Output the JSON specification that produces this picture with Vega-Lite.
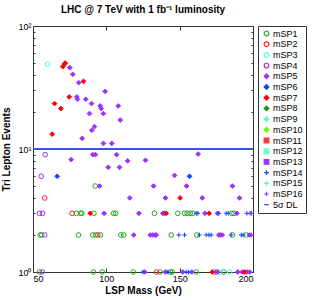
{
  "$schema": "https://vega.github.io/schema/vega-lite/v6.json",
  "autosize": {"type": "none"},
  "width": 220,
  "height": 246,
  "padding": {"left": 33, "top": 26, "right": 60, "bottom": 28},
  "config": {
    "font": "Liberation Sans",
    "view": {"stroke": "#333", "strokeWidth": 1},
    "axis": {"domain": false, "grid": false, "tickColor": "#333", "labelColor": "#000", "labelFontSize": 9, "titleFontSize": 10, "titleFontWeight": "bold", "titleColor": "#000"},
    "legend": {"orient": "none", "legendX": 225, "legendY": 0, "strokeColor": "#333", "fillColor": "white", "padding": 3, "labelFontSize": 9, "labelColor": "#000", "clipHeight": 9, "rowPadding": 0.7, "labelOffset": 2, "symbolOffset": 1, "symbolStrokeWidth": 1.2, "labelLimit": 0}
  },
  "title": {"text": "LHC @ 7 TeV with 1 fb⁻¹ luminosity", "fontSize": 10, "fontWeight": "bold", "anchor": "middle", "offset": 7, "color": "#000"},
  "data": {"values": [
    {"s":"mSP1","m":92.4,"n":5},{"s":"mSP1","m":79.5,"n":3},{"s":"mSP1","m":82.5,"n":3},{"s":"mSP1","m":83.3,"n":3},{"s":"mSP1","m":91.5,"n":3},{"s":"mSP1","m":104.9,"n":3},{"s":"mSP1","m":106.4,"n":3},{"s":"mSP1","m":132.8,"n":3},{"s":"mSP1","m":148.7,"n":3},{"s":"mSP1","m":153.3,"n":3},{"s":"mSP1","m":155.1,"n":3},{"s":"mSP1","m":157.2,"n":3},{"s":"mSP1","m":159,"n":3},{"s":"mSP1","m":185.5,"n":3},{"s":"mSP1","m":187,"n":3},
    {"s":"mSP1","m":54.9,"n":2},{"s":"mSP1","m":56,"n":2},{"s":"mSP1","m":81,"n":2},{"s":"mSP1","m":90.8,"n":2},{"s":"mSP1","m":92.6,"n":2},{"s":"mSP1","m":96,"n":2},{"s":"mSP1","m":109.9,"n":2},{"s":"mSP1","m":111.9,"n":2},{"s":"mSP1","m":144.2,"n":2},{"s":"mSP1","m":161.7,"n":2},{"s":"mSP1","m":186,"n":2},{"s":"mSP1","m":195.4,"n":2},
    {"s":"mSP1","m":54.4,"n":1},{"s":"mSP1","m":91.2,"n":1},{"s":"mSP1","m":97.2,"n":1},{"s":"mSP1","m":118.3,"n":1},{"s":"mSP1","m":136.7,"n":1},{"s":"mSP1","m":143.7,"n":1},{"s":"mSP1","m":144.9,"n":1},{"s":"mSP1","m":161.3,"n":1},{"s":"mSP1","m":173.8,"n":1},{"s":"mSP1","m":180,"n":1},
    {"s":"mSP2","m":58,"n":4},{"s":"mSP2","m":76.7,"n":3},{"s":"mSP2","m":94.2,"n":2},{"s":"mSP2","m":134.2,"n":1},
    {"s":"mSP3","m":60,"n":49},{"s":"mSP3","m":177.4,"n":1},{"s":"mSP3","m":184.1,"n":1},
    {"s":"mSP4","m":58.3,"n":9},{"s":"mSP4","m":55.6,"n":6},{"s":"mSP4","m":54.4,"n":3},{"s":"mSP4","m":56.5,"n":3},{"s":"mSP4","m":58,"n":2},{"s":"mSP4","m":56.3,"n":1},
    {"s":"mSP5","m":75.1,"n":45.8},{"s":"mSP5","m":77.1,"n":40.5},{"s":"mSP5","m":81.2,"n":34.6},{"s":"mSP5","m":99.2,"n":29.4},{"s":"mSP5","m":79.9,"n":26.5},{"s":"mSP5","m":80.3,"n":25.4},{"s":"mSP5","m":86,"n":25.4},{"s":"mSP5","m":89.9,"n":23.4},{"s":"mSP5","m":95.8,"n":22.4},{"s":"mSP5","m":96.5,"n":21.3},{"s":"mSP5","m":88.5,"n":19.4},{"s":"mSP5","m":98,"n":19.4},{"s":"mSP5","m":108.1,"n":22.4},{"s":"mSP5","m":109.5,"n":17.2},{"s":"mSP5","m":91.9,"n":15.2},{"s":"mSP5","m":90.1,"n":14.2},{"s":"mSP5","m":83.5,"n":12.2},{"s":"mSP5","m":98,"n":11.1},{"s":"mSP5","m":103.7,"n":11.1},{"s":"mSP5","m":76,"n":8.2},{"s":"mSP5","m":90.8,"n":9},{"s":"mSP5","m":92.6,"n":9},{"s":"mSP5","m":107,"n":9},{"s":"mSP5","m":114.5,"n":8},{"s":"mSP5","m":101.3,"n":7.1},{"s":"mSP5","m":109,"n":7.1},{"s":"mSP5","m":95.3,"n":5},{"s":"mSP5","m":116,"n":4},{"s":"mSP5","m":162.6,"n":9.1},{"s":"mSP5","m":126.7,"n":8.1},{"s":"mSP5","m":146.5,"n":6.1},{"s":"mSP5","m":132.2,"n":5},{"s":"mSP5","m":154.7,"n":5},{"s":"mSP5","m":186,"n":5},{"s":"mSP5","m":190.8,"n":4},{"s":"mSP5","m":140.3,"n":4},{"s":"mSP5","m":165.4,"n":4},
    {"s":"mSP5","m":98.5,"n":3},{"s":"mSP5","m":122.2,"n":3},{"s":"mSP5","m":138.5,"n":3},{"s":"mSP5","m":139.5,"n":3},{"s":"mSP5","m":167.2,"n":3},{"s":"mSP5","m":175.8,"n":3},{"s":"mSP5","m":189,"n":3},
    {"s":"mSP5","m":118.7,"n":2},{"s":"mSP5","m":129.9,"n":2},{"s":"mSP5","m":131.7,"n":2},{"s":"mSP5","m":133.5,"n":2},{"s":"mSP5","m":134,"n":2},{"s":"mSP5","m":176.7,"n":2},{"s":"mSP5","m":177.6,"n":2},{"s":"mSP5","m":179,"n":2},{"s":"mSP5","m":197.6,"n":2},
    {"s":"mSP5","m":126.2,"n":1},{"s":"mSP5","m":140.3,"n":1},{"s":"mSP5","m":152.1,"n":1},{"s":"mSP5","m":158.3,"n":1},{"s":"mSP5","m":175,"n":1},{"s":"mSP5","m":176,"n":1},{"s":"mSP5","m":189.6,"n":1},{"s":"mSP5","m":192.6,"n":1},{"s":"mSP5","m":196,"n":1},{"s":"mSP5","m":197.8,"n":1},
    {"s":"mSP6","m":66.5,"n":6},{"s":"mSP6","m":156.7,"n":6},
    {"s":"mSP7","m":70.3,"n":46.7},{"s":"mSP7","m":71.3,"n":49},{"s":"mSP7","m":72,"n":50},{"s":"mSP7","m":84.4,"n":35.5},{"s":"mSP7","m":64.7,"n":23.4},{"s":"mSP7","m":69,"n":21.3},{"s":"mSP7","m":74.7,"n":26.5},{"s":"mSP7","m":63.1,"n":13.2},{"s":"mSP7","m":89,"n":3},{"s":"mSP7","m":150.3,"n":4},{"s":"mSP7","m":140.8,"n":3},{"s":"mSP7","m":170.1,"n":3},{"s":"mSP7","m":172.2,"n":1},{"s":"mSP7","m":194.2,"n":1},
    {"s":"mSP14","m":161.3,"n":3},{"s":"mSP14","m":162.4,"n":3},{"s":"mSP14","m":176.7,"n":3},{"s":"mSP14","m":181.7,"n":3},{"s":"mSP14","m":183.1,"n":3},{"s":"mSP14","m":195.8,"n":3},{"s":"mSP14","m":198.1,"n":3},
    {"s":"mSP14","m":149.4,"n":2},{"s":"mSP14","m":153.3,"n":2},{"s":"mSP14","m":163.5,"n":2},{"s":"mSP14","m":168.1,"n":2},{"s":"mSP14","m":169.9,"n":2},{"s":"mSP14","m":171.5,"n":2},{"s":"mSP14","m":185.1,"n":2},{"s":"mSP14","m":192,"n":2},{"s":"mSP14","m":193.3,"n":2},
    {"s":"mSP14","m":124.9,"n":1},{"s":"mSP14","m":141.9,"n":1},{"s":"mSP14","m":154.4,"n":1},{"s":"mSP14","m":156,"n":1},
    {"s":"mSP16","m":199,"n":3},{"s":"mSP16","m":199,"n":2}
  ]},
  "resolve": {"axis": {"x": "independent", "y": "independent"}},
  "layer": [
    {
      "mark": {"type": "point", "opacity": 0},
      "encoding": {
        "x": {"field": "m", "type": "quantitative", "scale": {"domain": [50, 200], "nice": false},
          "axis": {"orient": "top", "values": [50, 100, 150, 200], "labels": false, "title": null, "tickSize": -4}},
        "y": {"field": "n", "type": "quantitative", "scale": {"type": "log", "domain": [1, 100], "nice": false},
          "axis": {"orient": "right", "values": [1,2,3,4,5,6,7,8,9,10,20,30,40,50,60,70,80,90,100], "labels": false, "title": null,
            "tickSize": {"condition": {"test": "datum.value == 1 || datum.value == 10 || datum.value == 100", "value": -4}, "value": -2}}}
      }
    },
    {
      "mark": {"type": "rule", "color": "#3355ff", "strokeWidth": 2},
      "encoding": {"y": {"datum": 10, "type": "quantitative", "axis": null}}
    },
    {
      "mark": {"type": "point", "opacity": 1, "strokeWidth": 1},
      "encoding": {
        "x": {"field": "m", "type": "quantitative",
          "axis": {"orient": "bottom", "values": [50, 100, 150, 200], "title": "LSP Mass (GeV)", "tickSize": -4, "labelPadding": 6, "titlePadding": 2}},
        "y": {"field": "n", "type": "quantitative",
          "axis": {"orient": "left", "values": [1,2,3,4,5,6,7,8,9,10,20,30,40,50,60,70,80,90,100],
            "labelExpr": "datum.value == 1 ? '10⁰' : datum.value == 10 ? '10¹' : datum.value == 100 ? '10²' : ''",
            "tickSize": {"condition": {"test": "datum.value == 1 || datum.value == 10 || datum.value == 100", "value": -4}, "value": -2},
            "labelPadding": 6, "title": "Tri Lepton Events", "titlePadding": 6}},
        "shape": {"field": "s", "type": "nominal", "title": null,
          "scale": {"domain": ["mSP1","mSP2","mSP3","mSP4","mSP5","mSP6","mSP7","mSP8","mSP9","mSP10","mSP11","mSP12","mSP13","mSP14","mSP15","mSP16","5σ DL"],
            "range": ["circle","circle","circle","circle","diamond","diamond","diamond","diamond","diamond","diamond","square","square","square","M-1,0L1,0M0,-1L0,1","M-1,0L1,0M0,-1L0,1","M-1,0L1,0M0,-1L0,1","stroke"]}},
        "stroke": {"field": "s", "type": "nominal", "title": null,
          "scale": {"domain": ["mSP1","mSP2","mSP3","mSP4","mSP5","mSP6","mSP7","mSP8","mSP9","mSP10","mSP11","mSP12","mSP13","mSP14","mSP15","mSP16","5σ DL"],
            "range": ["#22aa22","#ff2222","#55ffcc","#9933ff","#9933ff","#1144ff","#ff0000","#119911","#55ffcc","#66ff00","#ff3333","#66ffcc","#9933ff","#1144ff","#44ffaa","#9933ff","#3355ff"]}},
        "fill": {"field": "s", "type": "nominal", "title": null,
          "scale": {"domain": ["mSP1","mSP2","mSP3","mSP4","mSP5","mSP6","mSP7","mSP8","mSP9","mSP10","mSP11","mSP12","mSP13","mSP14","mSP15","mSP16","5σ DL"],
            "range": ["transparent","transparent","transparent","transparent","#9933ff","#1144ff","#ff0000","#119911","#55ffcc","#66ff00","#ff3333","#66ffcc","#9933ff","transparent","transparent","transparent","transparent"]}},
        "size": {"field": "s", "type": "nominal", "title": null,
          "scale": {"domain": ["mSP1","mSP2","mSP3","mSP4","mSP5","mSP6","mSP7","mSP8","mSP9","mSP10","mSP11","mSP12","mSP13","mSP14","mSP15","mSP16","5σ DL"],
            "range": [22,22,22,22,22,22,22,22,22,22,8,8,8,36,36,36,420]}}
      }
    }
  ]
}
